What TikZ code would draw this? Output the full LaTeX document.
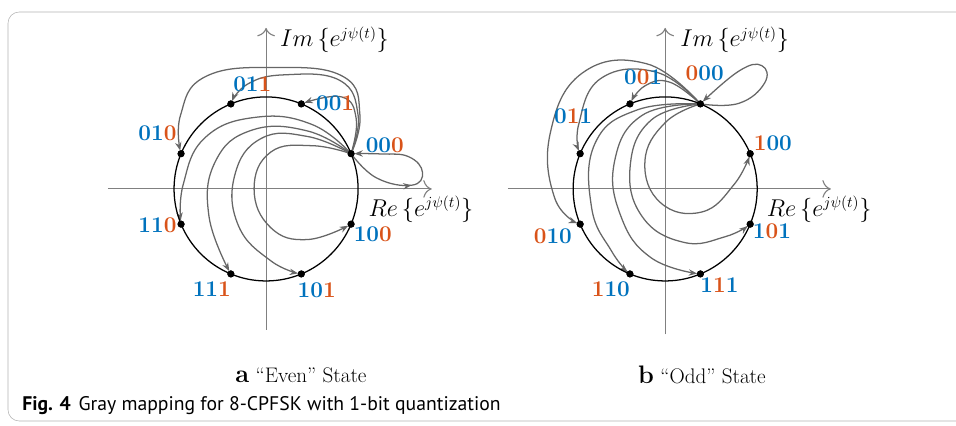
\documentclass[tikz,border=0pt]{standalone}
\usepackage{fontspec}
\newfontfamily\capfont{PT Sans}
\usetikzlibrary{arrows.meta,decorations.markings}
\definecolor{bitblue}{RGB}{0,114,189}
\definecolor{bitred}{RGB}{217,83,25}
\newcommand{\bb}[1]{\textcolor{bitblue}{#1}}
\newcommand{\br}[1]{\textcolor{bitred}{#1}}
\begin{document}
\begin{tikzpicture}[x=0.025cm, y=0.025cm,
    axis/.style={black!50, line width=0.8pt, -{To[length=6pt]}},
    ring/.style={line width=0.9pt},
    dot/.style={circle, fill, inner sep=0pt, minimum size=5pt},
    curve/.style={black!60, line width=0.9pt, shorten >=2.3pt,
      -{Stealth[length=6pt, width=4.5pt]}},
    midarrow/.style={postaction={decorate, decoration={markings,
      mark=at position 0.42 with {\arrow{Stealth[length=6pt, width=4.5pt]}}}}},
    bits/.style={font=\fontsize{16}{18}\selectfont\bfseries},
    lbl/.style={font=\fontsize{16}{18}\selectfont}]
  \useasboundingbox (0,0) rectangle (956,426);
  % frame
  \draw[black!30, rounded corners=8pt] (8,5) rectangle (990,414);

  % "even" state
  \begin{scope}[shift={(6.65cm,5.925cm)}, x=2.3cm, y=2.3cm]
    \coordinate (ex0) at (-1.72,0);
    \coordinate (ex1) at (1.8,0);
    \coordinate (ey0) at (0,-1.53);
    \coordinate (ey1) at (0,1.75);
    \draw[axis] (ex0) -- (ex1);
    \draw[axis] (ey0) -- (ey1);
    \node[lbl, anchor=west] (eim) at (0.1,1.62) {$Im\,\Big\{e^{j\psi(t)}\Big\}$};
    \node[lbl, anchor=west] (ere) at (1.06,-0.22) {$Re\,\Big\{e^{j\psi(t)}\Big\}$};
    \node[dot] (e000) at (22.5:1) {};
    \node[dot] (e001) at (67.5:1) {};
    \node[dot] (e011) at (112.5:1) {};
    \node[dot] (e010) at (157.5:1) {};
    \node[dot] (e110) at (202.5:1) {};
    \node[dot] (e111) at (247.5:1) {};
    \node[dot] (e101) at (292.5:1) {};
    \node[dot] (e100) at (337.5:1) {};
    % transitions out of 000
    \draw[curve] plot[smooth, tension=0.75] coordinates {(e000.center) (0.98,0.76) (0.82,1.0) (e001.center)};
    \draw[curve] plot[smooth, tension=0.75] coordinates {(e000.center) (1.0,0.8) (0.8,1.18) (0.2,1.24) (-0.2,1.14) (e011.center)};
    \draw[curve] plot[smooth, tension=0.75] coordinates {(e000.center) (1.02,0.8) (0.84,1.22) (0.1,1.32) (-0.66,1.22) (-0.93,0.8) (e010.center)};
    \draw[curve] plot[smooth, tension=0.75] coordinates {(e000.center) (0.5,0.7) (-0.1,0.78) (-0.66,0.56) (-0.9,0.05) (e110.center)};
    \draw[curve] plot[smooth, tension=0.75] coordinates {(e000.center) (0.45,0.63) (-0.15,0.64) (-0.55,0.3) (-0.62,-0.3) (e111.center)};
    \draw[curve] plot[smooth, tension=0.75] coordinates {(e000.center) (0.45,0.57) (-0.05,0.55) (-0.34,0.15) (-0.3,-0.4) (0.05,-0.78) (e101.center)};
    \draw[curve] plot[smooth, tension=0.75] coordinates {(e000.center) (0.5,0.47) (0.05,0.4) (-0.13,0.0) (0.05,-0.42) (0.45,-0.55) (e100.center)};
    \draw[curve, midarrow] plot[smooth, tension=0.75] coordinates {(e000.center) (1.2,0.12) (1.58,0.04) (1.7,0.18) (1.55,0.35) (1.25,0.38) (e000.center)};
    \draw[ring] (0,0) circle (1);
    \foreach \n in {000,001,011,010,110,111,101,100}
      \fill (e\n) circle (2.5pt);
    \node[bits] (le000) at (1.29,0.48) {\bb{00}\br{0}};
    \node[bits] (le001) at (0.75,0.93) {\bb{00}\br{1}};
    \node[bits] (le011) at (-0.15,1.14) {\bb{01}\br{1}};
    \node[bits] (le010) at (-1.18,0.60) {\bb{01}\br{0}};
    \node[bits] (le110) at (-1.18,-0.40) {\bb{11}\br{0}};
    \node[bits] (le111) at (-0.59,-1.09) {\bb{11}\br{1}};
    \node[bits] (le101) at (0.55,-1.10) {\bb{10}\br{1}};
    \node[bits] (le100) at (1.16,-0.49) {\bb{10}\br{0}};
  \end{scope}

  % "odd" state
  \begin{scope}[shift={(16.625cm,5.925cm)}, x=2.3cm, y=2.3cm]
    \coordinate (ox0) at (-1.71,0);
    \coordinate (ox1) at (1.8,0);
    \coordinate (oy0) at (0,-1.58);
    \coordinate (oy1) at (0,1.75);
    \draw[axis] (ox0) -- (ox1);
    \draw[axis] (oy0) -- (oy1);
    \node[lbl, anchor=west] (oim) at (0.11,1.62) {$Im\,\Big\{e^{j\psi(t)}\Big\}$};
    \node[lbl, anchor=west] (ore) at (1.05,-0.22) {$Re\,\Big\{e^{j\psi(t)}\Big\}$};
    \node[dot] (o000) at (67.5:1) {};
    \node[dot] (o001) at (112.5:1) {};
    \node[dot] (o011) at (157.5:1) {};
    \node[dot] (o010) at (202.5:1) {};
    \node[dot] (o110) at (247.5:1) {};
    \node[dot] (o111) at (292.5:1) {};
    \node[dot] (o101) at (337.5:1) {};
    \node[dot] (o100) at (22.5:1) {};
    % transitions out of 000
    \draw[curve] plot[smooth, tension=0.75] coordinates {(o000.center) (0.05,1.16) (-0.22,1.12) (o001.center)};
    \draw[curve] plot[smooth, tension=0.75] coordinates {(o000.center) (-0.1,1.27) (-0.7,1.2) (-0.94,0.7) (o011.center)};
    \draw[curve] plot[smooth, tension=0.75] coordinates {(o000.center) (-0.2,1.36) (-0.9,1.26) (-1.25,0.6) (-1.2,-0.1) (o010.center)};
    \draw[curve] plot[smooth, tension=0.75] coordinates {(o000.center) (-0.3,0.86) (-0.76,0.5) (-0.8,-0.2) (-0.58,-0.68) (o110.center)};
    \draw[curve] plot[smooth, tension=0.75] coordinates {(o000.center) (-0.25,0.8) (-0.55,0.3) (-0.48,-0.3) (-0.15,-0.75) (o111.center)};
    \draw[curve] plot[smooth, tension=0.75] coordinates {(o000.center) (-0.15,0.75) (-0.38,0.25) (-0.25,-0.3) (0.2,-0.58) (0.65,-0.52) (o101.center)};
    \draw[curve] plot[smooth, tension=0.75] coordinates {(o000.center) (0.0,0.72) (-0.22,0.3) (-0.05,-0.15) (0.4,-0.25) (0.75,0.05) (o100.center)};
    \draw[curve] plot[smooth, tension=0.75] coordinates {(o000.center) (0.8,0.93) (1.08,1.15) (1.05,1.34) (0.8,1.28) (o000.center)};
    \draw[ring] (0,0) circle (1);
    \foreach \n in {000,001,011,010,110,111,101,100}
      \fill (o\n) circle (2.5pt);
    \node[bits] (lo000) at (0.43,1.26) {\br{0}\bb{00}};
    \node[bits] (lo001) at (-0.24,1.21) {\bb{0}\br{0}\bb{1}};
    \node[bits] (lo011) at (-1.0,0.79) {\bb{0}\br{1}\bb{1}};
    \node[bits] (lo010) at (-1.22,-0.51) {\br{0}\bb{10}};
    \node[bits] (lo110) at (-0.59,-1.09) {\br{1}\bb{10}};
    \node[bits] (lo111) at (0.59,-1.05) {\bb{1}\br{1}\bb{1}};
    \node[bits] (lo101) at (1.16,-0.46) {\bb{1}\br{0}\bb{1}};
    \node[bits] (lo100) at (1.17,0.50) {\br{1}\bb{00}};
  \end{scope}

  \node[lbl, font=\fontsize{15}{17}\selectfont] (capa) at (301,51)
    {{\fontsize{18}{20}\selectfont\bfseries a} ``Even'' State};
  \node[lbl, font=\fontsize{15}{17}\selectfont] (capb) at (702,51)
    {{\fontsize{18}{20}\selectfont\bfseries b} ``Odd'' State};
  \node[anchor=west, inner sep=0pt, font=\capfont\fontsize{14}{16}\selectfont] (figcap) at (22,20)
    {\textbf{Fig. 4}\hspace{0.4em}Gray mapping for 8-CPFSK with 1-bit quantization};
\end{tikzpicture}
\end{document}
